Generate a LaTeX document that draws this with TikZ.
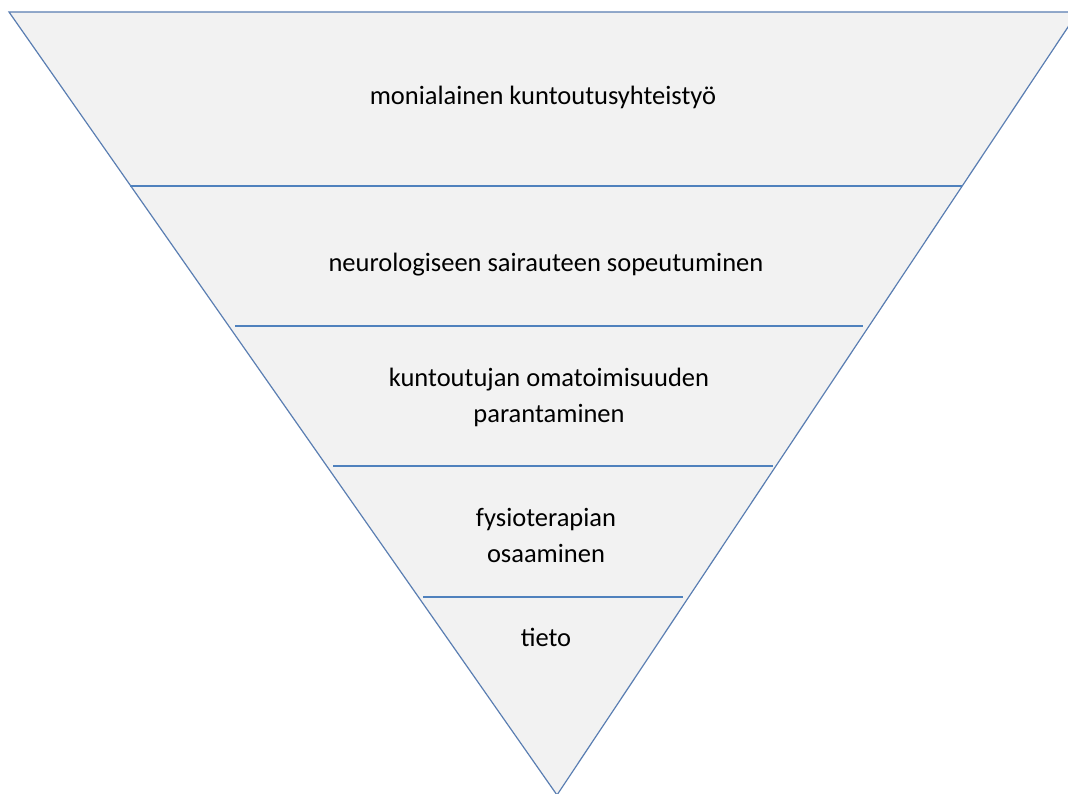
\documentclass[tikz,border=0pt]{standalone}
\usepackage{fontspec}
\setmainfont{Carlito}
\definecolor{edgeblue}{HTML}{5A7EB2}
\definecolor{lineblue}{HTML}{4F81BD}
\definecolor{fillgray}{HTML}{F2F2F2}
\tikzset{
  tri/.style={draw=edgeblue, fill=fillgray, line width=1.2pt, line join=miter},
  sep/.style={draw=lineblue, line width=2pt},
  lbl/.style={font=\fontsize{26.5}{36}\selectfont, align=center, text=black, inner sep=0pt}
}
\begin{document}
\begin{tikzpicture}[x=1pt,y=-1pt]
\clip (0,0) rectangle (1068,794);
\useasboundingbox (0,0) rectangle (1068,794);
\coordinate (tl) at (9,12);
\coordinate (tr) at (1078,12);
\coordinate (ap) at (557,795);
\draw[tri] (tl) -- (tr) -- (ap) -- cycle;
\coordinate (a1) at (130,186); \coordinate (b1) at (962,186);
\coordinate (a2) at (235,326); \coordinate (b2) at (863,326);
\coordinate (a3) at (333,466); \coordinate (b3) at (773,466);
\coordinate (a4) at (423,597); \coordinate (b4) at (683,597);
\draw[sep] (a1) -- (b1);
\draw[sep] (a2) -- (b2);
\draw[sep] (a3) -- (b3);
\draw[sep] (a4) -- (b4);
\node[lbl] (t1) at (543,97) {monialainen kuntoutusyhteistyö};
\node[lbl] (t2) at (546,265) {neurologiseen sairauteen sopeutuminen};
\node[lbl] (t3) at (549,397) {kuntoutujan omatoimisuuden\\parantaminen};
\node[lbl] (t4) at (546,535) {fysioterapian\\osaaminen};
\node[lbl] (t5) at (546,637) {tieto};
\end{tikzpicture}
\end{document}
